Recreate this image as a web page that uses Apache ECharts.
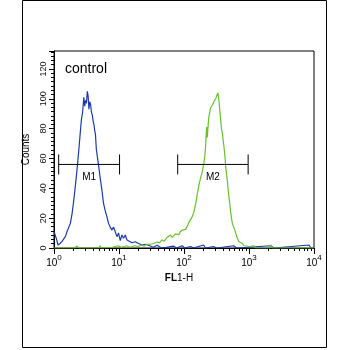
<!DOCTYPE html>
<html>
<head>
<meta charset="utf-8">
<script src="https://cdn.jsdelivr.net/npm/echarts@6/dist/echarts.min.js"></script>
<style>
  html, body { margin: 0; padding: 0; background: #fff; }
  #chart { width: 350px; height: 350px; }
</style>
</head>
<body>
<div id="chart"></div>
<script>
// Control histogram (blue): FL1-H intensity and event counts
const blueFL = [1.000, 1.047, 1.093, 1.153, 1.238, 1.329, 1.402, 1.494, 1.588, 1.687,
  1.785, 1.897, 2.015, 2.148, 2.266, 2.390, 2.521, 2.640, 2.755, 2.875,
  2.969, 3.066, 3.154, 3.257, 3.350, 3.447, 3.546, 3.662, 3.768, 3.890,
  4.003, 4.104, 4.222, 4.344, 4.485, 4.615, 4.833, 5.133, 5.453, 5.772,
  6.133, 6.514, 6.897, 7.325, 7.782, 8.237, 8.750, 9.297, 9.842, 10.45,
  11.11, 11.76, 12.49, 13.27, 14.04, 15.85, 17.82, 20.04, 22.62, 25.44,
  30.38, 33.81, 38.56, 43.36, 51.8, 68.8, 76.6, 93.8, 101.8, 126.0,
  140.2, 200.1, 214.8, 285.5, 317.7, 581.4, 646.9, 2167, 2411, 8372,
  8989, 10000];
const blueCounts = [11, 12, 6, 2, 3, 4.5, 3.5, 7.6, 11, 10.5,
  16.5, 23, 32, 43, 53, 64, 76, 86, 91, 101,
  95, 99, 97, 105, 102, 93, 98, 96, 91, 89,
  85, 83, 79, 76, 66, 62, 56, 47, 39, 30,
  25, 21, 16.5, 14, 12, 14, 11, 7.6, 10, 5,
  8.7, 6.5, 8.7, 5.4, 4.2, 3.5, 4.2, 3, 2, 2.5,
  1.3, 0.5, 1.8, 0.5, 0.3, 1.3, 0, 1.5, 0, 1,
  0, 2, 0, 1, 0, 1.5, 0, 1.5, 0, 2,
  0, 0];

// Stained sample histogram (green)
const greenFL = [1.000, 2.110, 2.242, 2.390, 4.955, 5.133, 5.414, 7.866, 9.737, 10.83,
  12.94, 14.92, 17.20, 19.83, 22.06, 24.11, 26.37, 28.29, 30.38, 33.81,
  36.29, 38.97, 41.84, 45.74, 49.11, 54.63, 57.63, 61.87, 65.26, 69.57,
  73.90, 78.52, 83.72, 88.30, 94.80, 100.0, 105.5, 112.1, 118.6, 126.0,
  133.9, 141.7, 150.5, 159.9, 169.3, 179.8, 191.0, 202.2, 209.5, 214.8,
  222.6, 228.2, 234.8, 241.5, 249.4, 256.6, 265.9, 275.5, 288.5, 297.9,
  306.5, 317.7, 325.7, 332.7, 344.8, 356.0, 366.3, 376.8, 389.0, 400.2,
  411.8, 425.2, 437.5, 450.1, 464.8, 478.2, 492.0, 508.0, 522.6, 537.7,
  555.2, 571.2, 587.6, 606.7, 624.3, 646.9, 670.4, 702.1, 745.6, 792.1,
  838.6, 890.8, 1002, 1064, 1197, 1272, 2092, 2167, 2287, 10000];
const greenCounts = [0, 0, 1.5, 0, 0, 1.5, 0, 0.5, 1.5, 0.5,
  1.5, 0.5, 1.5, 1, 2, 1.2, 2.5, 1.5, 2.5, 3,
  2.5, 4, 3.5, 5.5, 4.5, 7, 6, 8.7, 7, 8,
  9.5, 10, 9, 11, 12, 13, 12.5, 14.5, 17, 18,
  21, 24, 29, 36, 42, 47, 51, 57, 62, 68,
  81, 74, 82, 88, 91, 94, 93, 96, 98, 97,
  100, 101, 99, 104, 99, 92, 86, 80, 77, 72,
  68, 62, 55, 50, 45, 39, 34, 29, 24, 20,
  16.5, 15, 14, 12, 10, 7.5, 6, 4.2, 3.5, 3,
  1.5, 0.5, 1, 0.3, 1.5, 0, 0, 2, 0, 0];

// Marker gates
const gateNames = ['M1', 'M2'];
const gateLow = [1.18, 80];
const gateHigh = [10.2, 970];
const gateLevel = [56, 56];

// Axis ranges
const countTicks = [0, 20, 40, 60, 80, 100, 120];
const countMax = 132;
const flMin = 1;
const flMax = 10000;

const FONT = "'Liberation Sans', Arial, sans-serif";

const pairs = (xs, ys) => xs.map((x, i) => [x, ys[i]]);

const chart = echarts.init(document.getElementById('chart'), null, { renderer: 'canvas' });

chart.setOption({
  animation: false,
  backgroundColor: '#fff',
  grid: {
    left: 54, top: 51, width: 260, height: 197,
    show: true, borderColor: '#000', borderWidth: 1, backgroundColor: '#fff'
  },
  graphic: [
    {
      type: 'rect', silent: true, z: 0,
      shape: { x: 22.5, y: 0.5, width: 304, height: 347 },
      style: { fill: 'none', stroke: '#000', lineWidth: 1 }
    },
    {
      type: 'text', left: 65, top: 62, z: 10,
      style: { text: 'control', font: '14px ' + FONT, fill: '#000' }
    }
  ],
  xAxis: {
    type: 'log', logBase: 10, min: flMin, max: flMax,
    name: '{b|FL}{n|1-H}', nameLocation: 'middle', nameGap: 20,
    nameTextStyle: {
      padding: [0, 10, 0, 0],
      rich: {
        b: { fontFamily: FONT, fontSize: 10, fontWeight: 'bold', color: '#000' },
        n: { fontFamily: FONT, fontSize: 10, color: '#000' }
      }
    },
    axisLine: { lineStyle: { color: '#000', width: 1 } },
    axisTick: { length: 6, lineStyle: { color: '#000' } },
    minorTick: { show: true, splitNumber: 9, length: 3, lineStyle: { color: '#000' } },
    splitLine: { show: false },
    minorSplitLine: { show: false },
    axisLabel: {
      margin: 6,
      formatter: v => '{base|10}{sup|' + Math.round(Math.log10(v)) + '}',
      rich: {
        base: { fontFamily: FONT, fontSize: 10, color: '#000', lineHeight: 14, verticalAlign: 'bottom' },
        sup: { fontFamily: FONT, fontSize: 8, color: '#000', lineHeight: 14, verticalAlign: 'top', padding: [0, 0, 6, 0] }
      }
    }
  },
  yAxis: {
    type: 'value', min: 0, max: countMax, interval: 20,
    name: 'Counts', nameLocation: 'middle', nameGap: 17,
    nameTextStyle: { fontFamily: FONT, fontSize: 10, color: '#000' },
    axisLine: { show: true, lineStyle: { color: '#000', width: 1 } },
    axisTick: { show: true, length: 5, lineStyle: { color: '#000' } },
    minorTick: { show: true, splitNumber: 7, length: 3, lineStyle: { color: '#000' } },
    splitLine: { show: false },
    axisLabel: {
      rotate: 90, margin: 6, showMaxLabel: false,
      fontFamily: FONT, fontSize: 9, color: '#111',
      formatter: v => (countTicks.indexOf(v) >= 0 ? String(v) : '')
    }
  },
  series: [
    {
      type: 'line', name: 'control', data: pairs(blueFL, blueCounts),
      showSymbol: false, symbol: 'none', z: 3,
      lineStyle: { color: '#1b3aa8', width: 1.2 }
    },
    {
      type: 'line', name: 'sample', data: pairs(greenFL, greenCounts),
      showSymbol: false, symbol: 'none', z: 4,
      lineStyle: { color: '#66c02e', width: 1.2 }
    },
    {
      type: 'custom', coordinateSystem: 'cartesian2d', z: 5,
      dimensions: ['low', 'high', 'level'],
      encode: { x: [0, 1], y: 2 },
      data: gateNames.map((n, i) => [gateLow[i], gateHigh[i], gateLevel[i]]),
      renderItem: (params, api) => {
        const a = api.coord([api.value(0), api.value(2)]);
        const b = api.coord([api.value(1), api.value(2)]);
        const cap = 10;
        const stroke = { stroke: '#000', lineWidth: 1 };
        return {
          type: 'group',
          children: [
            { type: 'line', shape: { x1: a[0], y1: a[1], x2: b[0], y2: b[1] }, style: stroke },
            { type: 'line', shape: { x1: a[0], y1: a[1] - cap, x2: a[0], y2: a[1] + cap }, style: stroke },
            { type: 'line', shape: { x1: b[0], y1: b[1] - cap, x2: b[0], y2: b[1] + cap }, style: stroke },
            {
              type: 'text', x: (a[0] + b[0]) / 2, y: a[1] + 13,
              style: {
                text: gateNames[params.dataIndex], font: '10px ' + FONT, fill: '#000',
                textAlign: 'center', textVerticalAlign: 'middle'
              }
            }
          ]
        };
      }
    }
  ]
});
</script>
</body>
</html>
